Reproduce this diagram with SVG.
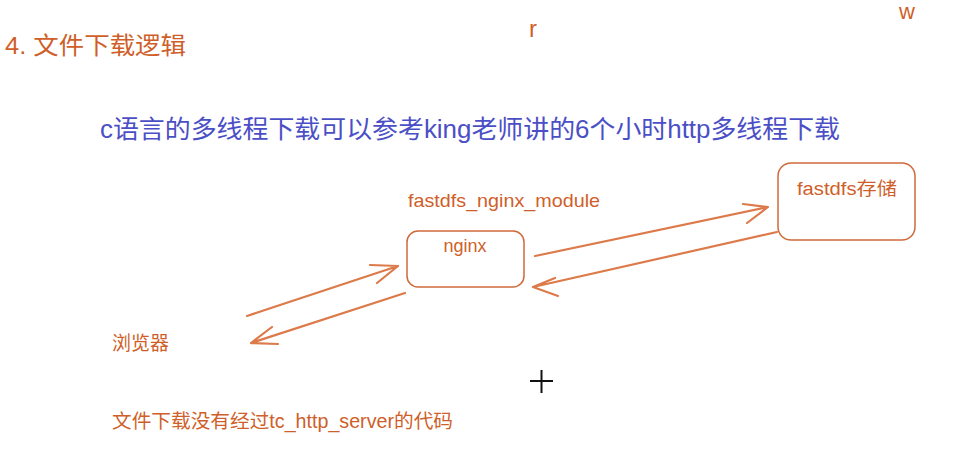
<svg xmlns="http://www.w3.org/2000/svg" width="962" height="450" viewBox="0 0 962 450">
<style>
  text { font-family: "Liberation Sans", "Noto Sans CJK SC", sans-serif; }
  .o { fill: #cf5f2a; }
  .b { fill: #4b4fc6; }
  .box { fill: #ffffff; stroke: #d06a3a; stroke-width: 1.5; }
  .ln { fill: none; stroke: #dd7a4a; stroke-width: 2.2; stroke-linecap: round; stroke-linejoin: round; }
</style>
<rect width="962" height="450" fill="#ffffff"/>
<text class="o" x="5" y="54" font-size="24" textLength="181" lengthAdjust="spacingAndGlyphs">4. 文件下载逻辑</text>
<text class="o" x="529" y="37" font-size="24">r</text>
<text class="o" x="899" y="19" font-size="22">w</text>
<text class="b" x="100" y="138" font-size="25" textLength="740" lengthAdjust="spacingAndGlyphs">c语言的多线程下载可以参考king老师讲的6个小时http多线程下载</text>
<text class="o" x="408" y="207" font-size="19" textLength="192" lengthAdjust="spacingAndGlyphs">fastdfs_nginx_module</text>
<g id="nginx">
  <rect class="box" x="407" y="231" width="117" height="56" rx="11"/>
  <text class="o" x="465" y="252" font-size="18" text-anchor="middle">nginx</text>
</g>
<g id="fastdfs">
  <rect class="box" x="778" y="163" width="137" height="77" rx="13"/>
  <text class="o" x="797" y="195" font-size="18" textLength="100" lengthAdjust="spacingAndGlyphs">fastdfs存储</text>
</g>
<g id="browser">
  <text class="o" x="112" y="350" font-size="19">浏览器</text>
</g>
<g id="connectors">
  <path class="ln" d="M535 256 L768 207 M743 204 L768 207 L747 223"/>
  <path class="ln" d="M777 232 L533 287 M555 278 L533 287 L558 296"/>
  <path class="ln" d="M247 316 L398 266 M370 265 L398 266 L377 283"/>
  <path class="ln" d="M405 293 L251 343 M272 327 L251 343 L278 344"/>
</g>
<text class="o" x="112" y="428" font-size="19.5" textLength="341" lengthAdjust="spacingAndGlyphs">文件下载没有经过tc_http_server的代码</text>
<g id="cursor" stroke="#111111" stroke-width="2">
  <line x1="530" y1="381" x2="553" y2="381"/>
  <line x1="541.5" y1="370" x2="541.5" y2="393"/>
</g>
</svg>
